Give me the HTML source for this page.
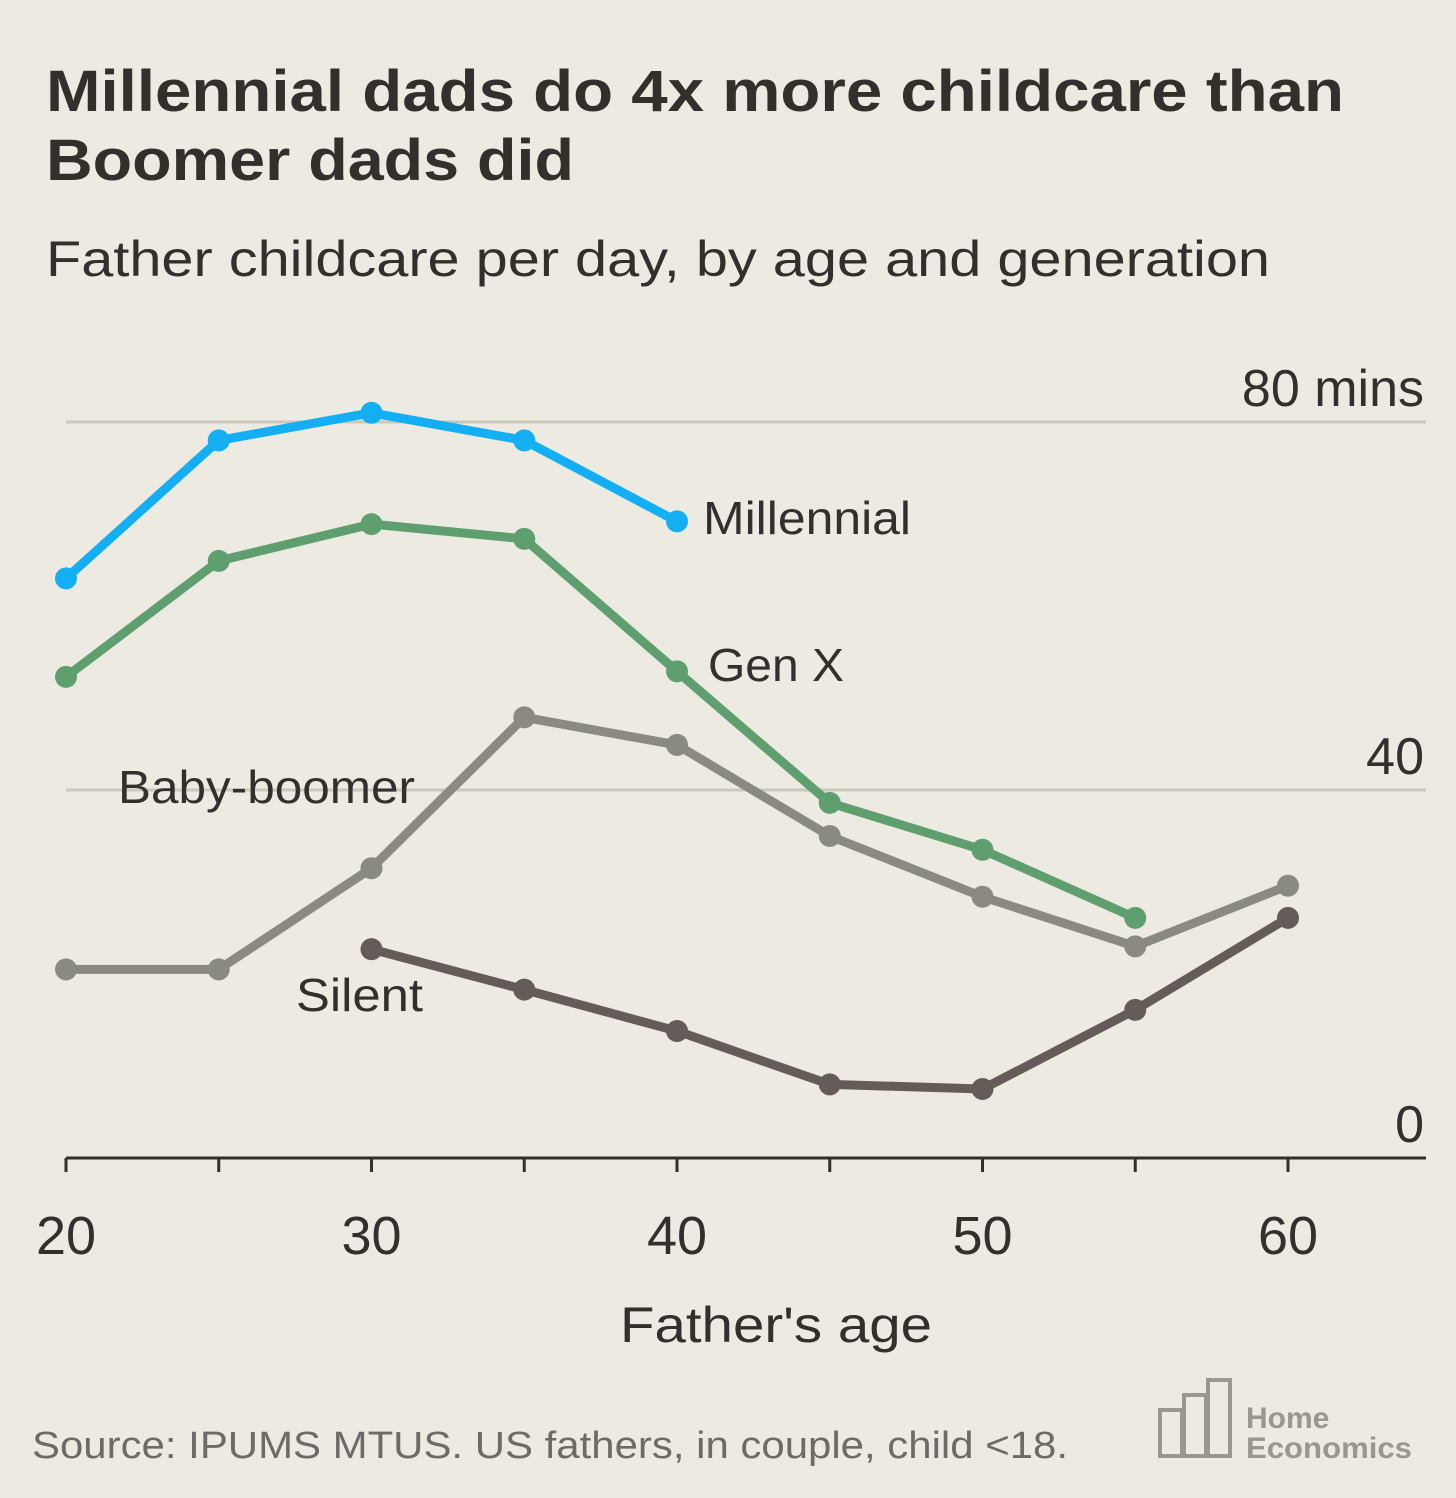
<!DOCTYPE html>
<html><head><meta charset="utf-8"><style>
body{margin:0;background:#edebe1;}
svg{display:block;font-family:"Liberation Sans",sans-serif;}
</style></head><body>
<svg width="1456" height="1498" viewBox="0 0 1456 1498">
<rect width="1456" height="1498" fill="#edebe1"/>
<text x="46" y="111" font-size="58" font-weight="bold" fill="#332f2c" textLength="1298" lengthAdjust="spacingAndGlyphs">Millennial dads do 4x more childcare than</text>
<text x="46" y="180" font-size="58" font-weight="bold" fill="#332f2c" textLength="528" lengthAdjust="spacingAndGlyphs">Boomer dads did</text>
<text x="46" y="276" font-size="50" fill="#332f2c" textLength="1224" lengthAdjust="spacingAndGlyphs">Father childcare per day, by age and generation</text>
<g id="grid"></g>
<g id="axis"></g>
<g id="series"></g>
<text x="620" y="1342" font-size="50" fill="#332f2c" textLength="312" lengthAdjust="spacingAndGlyphs">Father's age</text>
<text x="32" y="1458" font-size="38" fill="#6e6a66" textLength="1036" lengthAdjust="spacingAndGlyphs">Source: IPUMS MTUS. US fathers, in couple, child &lt;18.</text>
<g fill="none" stroke="#9a9690" stroke-width="4">
<rect x="1160" y="1410" width="22" height="46"/><rect x="1184" y="1395" width="22" height="61"/><rect x="1208" y="1380" width="22" height="76"/>
</g>
<text x="1246" y="1428" font-size="30" font-weight="bold" fill="#9a9690">Home</text>
<text x="1246" y="1458" font-size="30" font-weight="bold" fill="#9a9690" textLength="166" lengthAdjust="spacingAndGlyphs">Economics</text>
</svg>
<script>
const ages=[20,25,30,35,40,45,50,55,60];
const millennial=[63.0,78.0,81.0,78.0,69.2];
const genx=[52.3,64.9,68.9,67.3,52.9,38.6,33.5,26.1];
const boomer=[20.5,20.5,31.5,47.9,44.9,35.0,28.4,23.0,29.6];
const silent=[null,null,22.7,18.3,13.8,8.0,7.5,16.1,26.1];
const yTicks=[0,40,80];
const yLabels=["0","40","80 mins"];
const xTicks=[20,30,40,50,60];
const NS="http://www.w3.org/2000/svg";
const x=a=>66+(a-20)*30.55;
const y=v=>1158-v*9.2;
function mk(t,at,p){const e=document.createElementNS(NS,t);for(const k in at)e.setAttribute(k,at[k]);p.appendChild(e);return e;}
const grid=document.getElementById('grid'),axis=document.getElementById('axis'),ser=document.getElementById('series');
yTicks.forEach((v,i)=>{
 if(v>0){const l=mk('line',{x1:66,x2:1426,y1:y(v),y2:y(v),stroke:'#c9c8bc','stroke-width':3},grid);
 
 }
 const t=mk('text',{x:1424,y:y(v)-16,'font-size':52,fill:'#332f2c','text-anchor':'end'},grid);t.textContent=yLabels[i];
 
 
});
const base=mk('line',{x1:66,x2:1426,y1:1158,y2:1158,stroke:'#332f2c','stroke-width':3},axis);


for(let a=20;a<=60;a+=5){const tk=mk('line',{x1:x(a),x2:x(a),y1:1158,y2:1172,stroke:'#332f2c','stroke-width':3},axis);
 
 }
xTicks.forEach(a=>{const t=mk('text',{x:x(a),y:1254,'font-size':54,fill:'#332f2c','text-anchor':'middle'},axis);t.textContent=a;
 
 });
function draw(vals,color,name,lbl,lx,ly,lw){
 const g=mk('g',{},ser);
 
 
 const pts=[];vals.forEach((v,i)=>{if(v!=null)pts.push([x(ages[i]),y(v)]);});
 const p=mk('polyline',{points:pts.map(q=>q.join(',')).join(' '),fill:'none',stroke:color,'stroke-width':9,'stroke-linejoin':'round'},g);
 
 
 pts.forEach((q,i)=>{const c=mk('circle',{cx:q[0],cy:q[1],r:11,fill:color},g);
  
  });
 const t=mk('text',{x:lx,y:ly,'font-size':46,fill:'#332f2c',textLength:lw,lengthAdjust:'spacingAndGlyphs'},g);t.textContent=lbl;
 
 
}
draw(boomer,'#8b8a80','baby-boomer','Baby-boomer',118,803,297);
draw(silent,'#645c58','silent','Silent',296,1011,127);
draw(genx,'#5f9f6f','gen-x','Gen X',708,681,136);
draw(millennial,'#14aef2','millennial','Millennial',703,534,208);
</script>
</body></html>
